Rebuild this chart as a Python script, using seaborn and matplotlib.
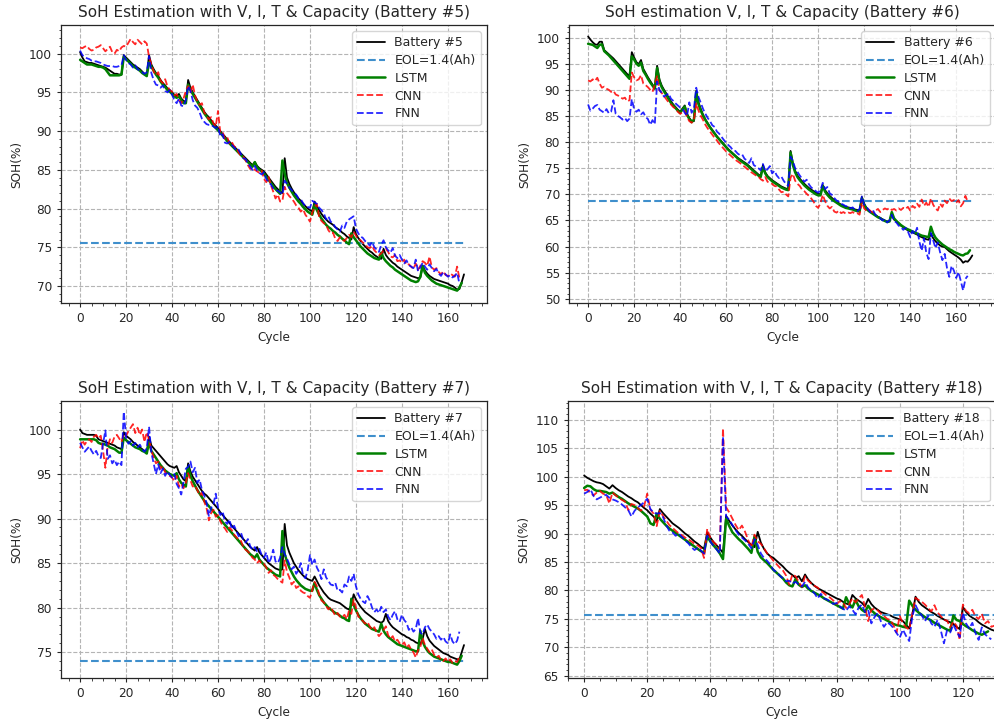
import matplotlib
matplotlib.use("Agg")
import matplotlib.pyplot as plt
import numpy as np
import seaborn as sns
from matplotlib.ticker import AutoMinorLocator, MultipleLocator

# ---- Battery #5 ----------------------------------------------------------
b5_true = [
    100.2, 99.5, 99.0, 98.9, 98.8, 98.8, 98.7, 98.6, 98.5, 98.4,
    98.3, 98.2, 98.0, 97.8, 97.6, 97.4, 97.4, 97.3, 97.3, 99.8,
    99.5, 99.2, 98.9, 98.6, 98.4, 98.2, 98.0, 97.7, 97.4, 97.2,
    99.8, 98.6, 98.0, 97.5, 97.1, 96.6, 96.2, 95.9, 95.5, 95.3,
    95.0, 94.7, 94.5, 94.8, 94.2, 93.9, 93.8, 96.6, 95.6, 95.0,
    94.5, 94.0, 93.5, 93.0, 92.5, 92.1, 91.8, 91.4, 91.0, 90.7,
    90.4, 90.0, 89.6, 89.3, 88.9, 88.6, 88.3, 88.0, 87.7, 87.4,
    87.1, 86.8, 86.5, 86.2, 85.9, 85.6, 86.0, 85.5, 85.2, 85.0,
    84.8, 84.4, 84.0, 83.6, 83.2, 82.8, 82.5, 82.2, 82.0, 86.5,
    84.0, 83.2, 82.6, 82.1, 81.7, 81.3, 81.0, 80.6, 80.3, 80.0,
    79.8, 79.6, 80.9, 80.3, 79.8, 79.3, 78.9, 78.6, 78.3, 78.1,
    77.9, 77.6, 77.4, 77.2, 76.9, 76.7, 76.4, 76.2, 76.0, 77.6,
    76.7, 76.2, 75.8, 75.4, 75.1, 74.8, 74.5, 74.3, 74.0, 73.8,
    73.6, 73.5, 74.8, 74.0, 73.6, 73.3, 73.0, 72.8, 72.5, 72.3,
    72.1, 71.9, 71.7, 71.5, 71.3, 71.2, 71.1, 71.0, 71.1, 72.6,
    72.0, 71.6, 71.3, 71.1, 70.9, 70.8, 70.7, 70.6, 70.5, 70.4,
    70.3, 70.1, 70.0, 69.8, 69.5, 69.6, 70.5, 71.5,
]
b5_lstm = [
    99.2, 99.0, 98.8, 98.6, 98.6, 98.6, 98.5, 98.4, 98.3, 98.3,
    98.2, 98.0, 97.6, 97.2, 97.2, 97.2, 97.2, 97.2, 97.3, 99.6,
    99.3, 99.0, 98.7, 98.4, 98.2, 98.0, 97.8, 97.5, 97.3, 97.1,
    98.9, 98.3, 97.8, 97.3, 96.9, 96.4, 96.0, 95.7, 95.3, 95.1,
    94.8, 94.5, 94.3, 94.5, 94.0, 93.6, 93.6, 96.0, 95.3, 94.8,
    94.3, 93.8, 93.3, 92.8, 92.3, 91.9, 91.5, 91.1, 90.7, 90.4,
    90.1, 89.8, 89.4, 89.1, 88.7, 88.4, 88.1, 87.8, 87.5, 87.2,
    86.9, 86.6, 86.3, 86.0, 85.7, 85.4, 86.0, 85.3, 85.0, 84.8,
    84.5, 84.1, 83.7, 83.3, 82.9, 82.5, 82.2, 81.9, 86.2, 84.5,
    83.3, 82.7, 82.2, 81.7, 81.3, 80.9, 80.6, 80.2, 79.9, 79.6,
    79.4, 79.2, 80.5, 79.8, 79.2, 78.7, 78.3, 77.9, 77.6, 77.4,
    77.1, 76.9, 76.6, 76.4, 76.1, 75.9, 75.6, 75.4, 76.8, 76.3,
    75.9, 75.5, 75.1, 74.8, 74.5, 74.2, 74.0, 73.8, 73.6, 73.5,
    73.4, 74.3, 73.6, 73.2, 72.9, 72.6, 72.4, 72.1, 71.9, 71.7,
    71.5, 71.3, 71.1, 70.9, 70.7, 70.6, 70.5, 70.6, 71.2, 72.6,
    71.7, 71.3, 71.0, 70.7, 70.5, 70.3, 70.2, 70.1, 70.0, 69.9,
    69.8, 69.7, 69.6, 69.5, 69.4, 69.8, 70.4,
]
b5_cnn = [
    100.8, 100.7, 100.9, 101.0, 100.6, 100.4, 100.5, 100.8, 100.9, 101.1,
    100.7, 100.3, 100.6, 100.9, 100.2, 100.0, 100.5, 100.3, 100.8, 101.0,
    100.9, 101.4, 101.9, 101.5, 101.2, 101.8, 101.5, 101.2, 101.6, 101.3,
    99.6, 98.6, 97.7, 97.2, 97.6, 96.5, 96.2, 96.7, 95.8, 95.3,
    95.1, 94.6, 94.8, 94.0, 93.6, 94.2, 95.2, 95.8, 95.0, 96.0,
    94.6, 93.8, 93.4, 93.6, 92.4, 92.0, 91.5, 91.8, 91.0, 90.6,
    92.6, 89.8, 89.9, 89.0, 89.2, 88.4, 88.6, 88.0, 87.9, 87.2,
    86.8, 86.7, 86.2, 85.6, 85.1, 85.3, 85.0, 84.8, 84.6, 84.9,
    83.8, 83.4, 84.1, 83.0, 82.2, 81.3, 81.8, 80.9, 81.0, 82.8,
    82.0, 81.6, 81.3, 80.9, 80.4, 80.1, 79.6, 79.9, 79.2, 78.8,
    78.3, 79.5, 80.2, 80.6, 78.9, 78.4, 78.1, 77.9, 77.2, 76.8,
    76.9, 76.1, 75.8, 76.3, 76.0, 75.8, 76.2, 76.6, 76.3, 77.0,
    76.5, 76.0, 75.9, 75.6, 75.4, 75.0, 74.9, 75.2, 74.6, 74.3,
    74.0, 74.2, 74.6, 74.8, 74.4, 73.8, 73.7, 74.0, 73.2, 73.3,
    73.0, 73.4, 72.7, 72.8, 72.5, 72.2, 72.9, 72.1, 72.6, 73.2,
    73.0, 72.6, 73.8, 72.4, 72.1, 72.3, 71.8, 71.5, 71.9, 71.4,
    71.3, 71.6, 71.4, 71.2, 72.5, 71.0,
]
b5_fnn = [
    100.4, 99.8, 99.6, 99.4, 99.3, 99.1, 99.0, 99.0, 98.9, 98.8,
    98.6, 98.5, 98.4, 98.4, 98.4, 98.3, 98.3, 98.4, 98.5, 99.8,
    99.2, 98.8, 98.6, 98.2, 98.5, 98.0, 97.8, 97.6, 97.4, 97.6,
    99.7, 97.5, 96.6, 96.0, 95.9, 95.6, 95.9, 95.2, 95.0, 95.3,
    94.7, 94.0, 93.6, 94.2, 93.3, 93.2, 94.0, 95.8, 95.2, 94.0,
    93.3, 93.0, 92.4, 91.6, 91.2, 90.9, 90.8, 90.8, 90.6, 90.4,
    90.6, 89.3, 89.6, 88.5, 88.4, 88.6, 88.2, 87.9, 87.5, 87.6,
    87.0, 86.5, 86.4, 85.8, 85.4, 85.0, 85.5, 84.9, 84.6, 84.4,
    84.7, 83.8, 83.4, 83.1, 82.6, 82.4, 82.3, 82.1, 81.8, 83.6,
    83.2, 82.7, 82.4, 82.0, 81.8, 81.3, 81.2, 80.7, 80.3, 80.2,
    80.1, 81.0, 80.8, 80.6, 80.1, 79.8, 79.4, 78.6, 79.0, 78.3,
    78.1, 77.6, 77.3, 77.0, 77.8, 77.5, 78.3, 78.6, 78.8, 79.0,
    77.4, 76.8, 76.4, 76.2, 75.8, 75.6, 75.2, 75.7, 75.0, 74.7,
    74.4, 75.3, 75.9, 75.0, 74.6, 74.3, 74.9, 73.9, 73.6, 74.0,
    73.4, 72.9, 73.3, 72.7, 72.5, 72.3, 73.4, 71.9, 72.4, 73.0,
    72.5, 72.1, 72.8, 72.3, 71.9, 72.2, 71.6, 71.3, 71.8, 71.5,
    71.2, 71.4, 71.1, 71.3, 71.7, 70.3,
]
b5_eol = 75.5

# ---- Battery #6 ----------------------------------------------------------
b6_true = [
    100.2, 99.6, 99.1, 98.7, 98.6, 99.2, 99.2, 97.6, 97.2, 96.8,
    96.4, 96.0, 95.5, 95.0, 94.5, 94.0, 93.5, 93.0, 92.6, 97.2,
    96.2, 95.3, 94.9, 95.7, 94.0, 93.2, 92.4, 91.7, 91.0, 90.4,
    94.6, 92.0, 90.8, 90.0, 89.3, 88.5, 87.8, 87.2, 86.7, 86.2,
    85.8, 86.4, 87.0, 85.4, 84.6, 84.0, 84.0, 89.8, 87.6, 86.3,
    85.2, 84.3, 83.6, 82.9, 82.3, 81.7, 81.1, 80.6, 80.1, 79.6,
    79.1, 78.6, 78.2, 77.8, 77.4, 77.0, 76.7, 76.4, 76.1, 75.8,
    75.4, 75.0, 74.6, 74.2, 73.8, 73.5, 75.6, 74.2, 73.5, 73.1,
    72.7, 72.4, 72.1, 71.8, 71.5, 71.3, 71.1, 71.0, 78.3, 76.0,
    74.5, 73.6, 73.0, 72.5, 72.0, 71.6, 71.2, 70.9, 70.6, 70.3,
    70.1, 70.0, 71.8, 70.8, 70.2, 69.7, 69.3, 68.9, 68.6, 68.3,
    68.0, 67.8, 67.6, 67.5, 67.4, 67.3, 67.1, 67.0, 66.9, 69.5,
    68.2, 67.4, 66.9, 66.6, 66.3, 66.0, 65.7, 65.5, 65.2, 65.0,
    64.8, 64.9, 66.3, 65.2, 64.8, 64.4, 64.0, 63.7, 63.4, 63.1,
    62.9, 62.7, 62.5, 62.3, 62.0, 61.8, 61.6, 61.4, 61.3, 62.5,
    61.6, 61.0, 60.6, 60.2, 60.0, 59.9, 59.5, 59.1, 58.8, 58.5,
    58.2, 57.9, 57.5, 56.9, 57.2, 57.1, 57.6, 58.3,
]
b6_lstm = [
    98.8, 98.7, 98.6, 98.3, 98.0, 98.6, 98.7, 97.4, 97.0, 96.6,
    96.1, 95.6, 95.1, 94.6, 94.1, 93.6, 93.1, 92.6, 92.1, 96.4,
    95.8, 95.0, 94.6, 95.2, 93.6, 92.9, 92.1, 91.4, 90.8, 90.2,
    94.2, 91.6, 90.5, 89.7, 89.0, 88.2, 87.5, 87.0, 86.5, 86.0,
    85.6, 86.2, 86.8, 85.2, 84.4, 83.8, 84.3, 89.5, 87.2, 86.0,
    85.0, 84.2, 83.5, 82.8, 82.2, 81.6, 81.0, 80.5, 80.0, 79.5,
    79.0, 78.5, 78.1, 77.7, 77.3, 76.9, 76.5, 76.2, 75.9, 75.6,
    75.2, 74.8, 74.4, 74.0, 73.6, 73.3, 75.2, 74.0, 73.3, 72.9,
    72.5, 72.2, 71.9, 71.6, 71.3, 71.1, 70.9, 70.8, 78.0, 75.6,
    74.2, 73.3, 72.7, 72.2, 71.7, 71.3, 70.9, 70.6, 70.3, 70.0,
    69.8, 69.8, 71.6, 70.5, 69.9, 69.4, 69.0, 68.7, 68.4, 68.1,
    67.8, 67.6, 67.4, 67.3, 67.2, 67.1, 66.9, 66.8, 66.7, 69.2,
    68.0, 67.2, 66.8, 66.5, 66.2, 65.9, 65.6, 65.4, 65.1, 64.9,
    64.7, 64.8, 66.6, 65.4, 64.9, 64.5, 64.1, 63.8, 63.5, 63.3,
    63.1, 62.9, 62.7, 62.5, 62.3, 62.1, 62.0, 61.9, 61.8, 63.8,
    62.5, 61.7, 61.2, 60.8, 60.4, 60.1, 59.8, 59.5, 59.3, 59.0,
    58.8, 58.6, 58.4, 58.3, 58.6, 58.7, 59.3,
]
b6_cnn = [
    91.8, 91.6, 92.0, 91.7, 92.3, 91.2, 90.4, 90.6, 90.2, 90.0,
    89.6, 89.8, 89.1, 88.9, 88.6, 88.3, 88.5, 87.8, 88.0, 93.3,
    92.4, 91.8, 92.0, 92.8, 91.2, 90.9, 90.5, 90.0, 89.6, 91.0,
    92.6, 89.9, 89.4, 88.8, 88.2, 87.6, 87.2, 86.7, 86.4, 85.8,
    85.4, 85.7, 86.0, 84.8, 84.0, 83.7, 84.2, 87.4, 86.0, 85.0,
    84.2, 83.3, 82.6, 82.0, 81.4, 80.8, 80.3, 79.7, 79.2, 78.7,
    78.2, 77.8, 77.4, 77.0, 76.6, 76.3, 76.0, 75.6, 75.3, 74.9,
    74.6, 74.2, 73.9, 73.6, 73.4, 72.9, 72.6, 73.3, 72.4, 72.2,
    72.0, 71.6, 71.5, 70.9, 70.4, 70.5, 70.0, 69.6, 73.2, 73.9,
    72.6, 72.0, 71.6, 70.9, 70.6, 70.1, 69.7, 69.2, 68.6, 67.8,
    67.4, 68.3, 69.9, 68.7, 67.8, 67.3, 67.6, 66.7, 66.5, 66.9,
    66.4, 66.6, 66.3, 66.5, 66.4, 66.6, 66.3, 66.4, 66.1, 68.5,
    67.3, 66.8, 67.1, 66.7, 66.5, 66.9, 67.2, 66.6, 67.0, 67.3,
    67.1, 67.4, 67.0, 67.2, 66.9, 67.3, 67.0, 67.4, 67.2, 67.6,
    66.9, 67.8, 67.4, 68.2, 67.6, 69.0, 67.8, 68.4, 67.6, 69.2,
    68.0, 67.3, 66.9, 68.2, 67.6, 68.8, 68.3, 69.2, 68.7, 68.9,
    68.4, 68.9, 67.7, 68.3, 69.7, 68.6,
]
b6_fnn = [
    87.2, 86.0, 86.4, 86.9, 87.1, 86.2, 85.9, 85.6, 86.3, 85.5,
    85.8, 88.0, 85.4, 85.0, 84.7, 84.3, 84.6, 84.0, 84.5, 88.2,
    86.3, 85.8, 86.2, 85.3, 85.7, 84.8, 84.4, 83.3, 84.2, 83.4,
    91.6, 90.0, 89.4, 88.7, 89.0, 89.3, 88.3, 87.9, 87.4, 87.0,
    86.6, 86.4, 85.6, 85.0, 87.6, 85.6, 86.4, 90.4, 88.6, 87.5,
    86.3, 85.4, 84.6, 84.0, 83.2, 82.9, 82.0, 81.6, 81.0, 80.4,
    79.9, 79.4, 79.0, 78.4, 78.3, 77.8, 77.5, 77.6, 76.8, 76.5,
    76.0, 76.9, 75.6, 75.3, 75.0, 74.6, 75.8, 74.4, 74.8, 75.4,
    74.0, 74.5, 73.6, 73.1, 73.4, 72.6, 72.0, 71.6, 77.2, 76.4,
    75.0, 74.3, 73.6, 73.0, 72.4, 72.8, 71.9, 71.3, 71.0, 70.6,
    70.3, 70.8, 72.2, 71.0, 71.4, 70.2, 69.9, 69.3, 68.8, 68.6,
    68.2, 68.0, 67.7, 67.8, 67.3, 67.5, 67.0, 66.8, 67.2, 69.6,
    68.0, 67.6, 67.0, 66.4, 66.8, 66.0, 65.8, 65.4, 65.0, 65.3,
    64.6, 65.0, 66.1, 64.9, 64.6, 64.0, 63.7, 63.2, 63.6, 62.9,
    61.8, 63.0, 62.4, 63.6, 60.9, 59.2, 61.6, 58.8, 57.6, 62.6,
    61.2, 59.7, 60.8, 58.9, 57.4, 58.6, 55.9, 54.2, 56.3, 55.4,
    54.0, 55.1, 53.4, 51.6, 53.8, 54.4,
]
b6_eol = 68.8

# ---- Battery #7 ----------------------------------------------------------
b7_true = [
    100.0, 99.6, 99.5, 99.4, 99.4, 99.4, 99.4, 99.3, 98.9, 98.8,
    98.7, 98.6, 98.5, 98.4, 98.3, 98.2, 98.0, 97.9, 97.8, 99.7,
    99.3, 99.1, 98.9, 98.6, 98.4, 98.2, 98.0, 97.8, 97.6, 97.5,
    99.2, 98.2, 97.9, 97.6, 97.3, 97.0, 96.7, 96.4, 96.1, 95.9,
    95.8, 95.7, 95.9, 95.2, 94.8, 94.4, 94.2, 96.2, 95.3, 94.7,
    94.3, 93.9, 93.5, 93.1, 92.8, 92.6, 92.3, 92.0, 91.7, 91.4,
    91.1, 90.7, 90.4, 90.1, 89.8, 89.5, 89.2, 88.9, 88.6, 88.3,
    88.0, 87.7, 87.4, 87.1, 86.8, 86.6, 86.4, 86.8, 86.2, 85.9,
    85.6, 85.3, 85.0, 84.8, 84.6, 84.4, 84.3, 84.2, 84.3, 89.4,
    87.0, 86.2, 85.6, 85.0, 84.6, 84.2, 83.9, 83.6, 83.4, 83.2,
    83.1, 83.0, 83.5, 83.0, 82.5, 82.1, 81.7, 81.4, 81.1, 80.9,
    80.8, 80.7, 80.6, 80.5, 80.3, 80.1, 79.9, 79.8, 80.3, 81.5,
    80.9, 80.5, 80.1, 79.8, 79.5, 79.3, 79.1, 78.9, 78.7, 78.5,
    78.4, 78.3, 78.5, 79.3, 78.5, 78.1, 77.8, 77.6, 77.4, 77.2,
    77.0, 76.9, 76.7, 76.6, 76.4, 76.3, 76.1, 76.0, 75.9, 76.5,
    77.6, 76.8, 76.3, 76.0, 75.7, 75.5, 75.3, 75.1, 74.9, 74.8,
    74.7, 74.5, 74.4, 74.3, 74.2, 74.2, 75.0, 75.8,
]
b7_lstm = [
    98.9, 98.9, 98.9, 98.9, 98.9, 98.9, 98.9, 98.8, 98.5, 98.4,
    98.4, 98.3, 98.2, 98.0, 97.9, 97.8, 97.6, 97.4, 97.4, 99.1,
    98.8, 98.6, 98.4, 98.2, 98.0, 97.9, 97.8, 97.6, 97.5, 97.3,
    98.6, 97.6, 97.2, 96.8, 96.4, 96.0, 95.7, 95.4, 95.2, 95.0,
    94.9, 94.8, 95.1, 94.4, 94.0, 93.8, 93.6, 95.8, 94.8, 94.2,
    93.7, 93.2, 92.8, 92.4, 92.0, 91.7, 91.4, 91.1, 90.8, 90.5,
    90.2, 89.9, 89.6, 89.3, 89.0, 88.7, 88.4, 88.1, 87.8, 87.5,
    87.2, 86.9, 86.6, 86.3, 86.0, 85.8, 85.6, 86.0, 85.4, 85.1,
    84.8, 84.5, 84.3, 84.1, 83.9, 83.7, 83.6, 83.5, 88.6, 86.0,
    85.2, 84.5, 84.0, 83.5, 83.1, 82.8, 82.5, 82.3, 82.1, 82.0,
    81.9, 81.9, 82.8, 82.0, 81.4, 81.0, 80.6, 80.3, 80.0, 79.8,
    79.6, 79.4, 79.3, 79.1, 78.9, 78.8, 78.6, 78.5, 81.0, 80.3,
    79.7, 79.2, 78.8, 78.5, 78.2, 78.0, 77.8, 77.6, 77.5, 77.4,
    77.3, 78.2, 77.4, 77.0, 76.7, 76.5, 76.3, 76.1, 75.9, 75.8,
    75.7, 75.6, 75.5, 75.4, 75.3, 75.2, 75.1, 75.1, 77.4, 76.2,
    75.6, 75.2, 74.9, 74.7, 74.5, 74.4, 74.3, 74.2, 74.1, 74.0,
    73.9, 73.9, 73.8, 73.7, 73.6, 74.0, 74.6,
]
b7_cnn = [
    97.9, 98.8, 98.3, 98.7, 98.9, 98.6, 99.2, 99.4, 99.0, 99.3,
    97.6, 95.7, 98.1, 98.9, 98.5, 99.2, 99.4, 99.0, 98.6, 99.5,
    99.3, 99.8, 100.2, 100.6, 99.6, 100.2, 99.4, 100.0, 98.6, 99.7,
    98.9, 97.6, 96.9, 96.2, 96.4, 95.6, 95.9, 95.2, 95.0, 94.8,
    94.6, 94.2, 94.8, 93.6, 93.9, 93.4, 94.0, 95.1, 94.3, 93.6,
    93.7, 93.2, 92.6, 92.9, 91.9, 91.2, 89.8, 90.6, 91.0, 90.2,
    90.4, 89.7, 89.2, 88.9, 88.5, 89.0, 88.7, 88.2, 87.9, 87.6,
    87.5, 86.8, 86.5, 86.3, 86.0, 85.6, 85.4, 85.0, 85.3, 84.9,
    84.9, 84.5, 83.9, 84.2, 83.7, 83.5, 83.2, 83.0, 82.8, 85.3,
    84.0, 83.4, 82.6, 82.9, 82.2, 82.4, 81.9, 81.7, 81.6, 81.3,
    81.1, 82.0, 82.9, 82.4, 81.5, 80.8, 80.6, 80.2, 79.8, 80.1,
    79.6, 79.1, 79.4, 79.0, 78.9, 79.2, 78.7, 79.7, 79.3, 80.9,
    80.0, 79.0, 78.8, 78.5, 78.2, 78.4, 77.9, 77.5, 77.8, 77.2,
    76.8, 77.1, 77.5, 77.9, 76.9, 76.5, 76.8, 76.2, 76.4, 76.0,
    75.8, 76.1, 75.5, 75.8, 75.3, 75.0, 74.4, 75.2, 75.6, 76.6,
    75.8, 75.4, 75.0, 75.3, 74.7, 74.4, 74.6, 74.1, 74.0, 74.3,
    73.9, 74.2, 73.8, 74.0, 73.9, 74.5,
]
b7_fnn = [
    98.5, 98.0, 97.5, 97.8, 98.1, 97.6, 97.2, 97.6, 97.0, 96.8,
    98.4, 99.9, 96.7, 97.1, 96.2, 96.6, 96.0, 96.4, 96.0, 102.0,
    99.1, 98.4, 98.7, 98.2, 98.5, 98.0, 98.3, 97.8, 97.5, 97.9,
    100.3, 97.4, 96.2, 95.0, 96.1, 95.1, 95.6, 94.8, 95.3, 94.9,
    94.6, 95.0, 93.9, 93.4, 92.7, 94.1, 95.6, 95.8, 96.4, 95.2,
    95.7, 94.0, 94.4, 93.2, 92.6, 91.8, 90.3, 91.2, 91.6, 92.8,
    91.2, 90.4, 90.8, 89.7, 89.4, 89.9, 88.8, 89.2, 88.6, 88.0,
    88.4, 87.6, 87.3, 87.7, 86.9, 86.5, 86.8, 86.3, 86.6, 85.9,
    85.6, 86.2, 85.0, 85.5, 86.5, 85.2, 85.0, 85.6, 86.8, 86.0,
    85.5, 84.9, 84.3, 84.6, 83.8, 84.2, 85.0, 83.6, 83.3, 84.2,
    85.9, 84.8, 85.4, 84.5, 84.0, 83.2, 84.3, 83.4, 83.0, 82.6,
    82.5, 82.8, 81.9, 82.0, 81.7, 82.6, 82.4, 83.5, 83.0, 83.8,
    82.4, 81.5, 81.0, 80.7, 80.5, 81.3, 80.8, 80.0, 79.5, 79.8,
    79.4, 80.1, 79.5, 79.8, 79.0, 78.6, 79.2, 79.6, 78.7, 78.4,
    79.2, 78.6, 78.3, 77.5, 77.8, 77.3, 77.6, 78.8, 77.2, 77.0,
    77.8, 78.1, 77.6, 77.3, 77.0, 76.5, 76.8, 76.4, 76.7, 76.2,
    76.0, 77.0, 76.2, 75.9, 76.3, 77.3,
]
b7_eol = 74.0

# ---- Battery #18 ---------------------------------------------------------
b18_true = [
    100.2, 99.8, 99.5, 99.2, 99.0, 98.9, 98.7, 98.3, 97.9, 98.5,
    98.0, 97.6, 97.3, 96.9, 96.5, 96.2, 95.8, 95.5, 95.0, 94.5,
    94.1, 93.5, 93.0, 92.2, 94.3, 93.6, 93.0, 92.4, 91.8, 91.4,
    91.0, 90.5, 90.0, 89.6, 89.1, 88.6, 88.2, 87.7, 87.3, 90.2,
    89.3, 88.5, 87.9, 87.3, 86.6, 93.1, 92.2, 91.4, 90.7, 90.1,
    89.6, 89.0, 88.5, 88.0, 87.6, 90.3, 88.4, 87.3, 86.5, 86.0,
    85.7, 85.2, 84.7, 84.2, 83.6, 83.1, 82.7, 82.2, 82.5, 81.6,
    82.8, 81.9, 81.3, 80.8, 80.4, 80.1, 79.8, 79.5, 79.2, 78.9,
    78.6, 78.4, 78.0, 77.7, 77.5, 79.2, 78.6, 78.2, 77.8, 77.2,
    78.5, 77.6, 77.0, 76.6, 76.2, 76.0, 75.8, 75.6, 75.3, 75.1,
    74.9, 74.6, 74.0, 73.3, 75.8, 78.9, 78.0, 77.4, 77.0, 76.6,
    76.2, 75.9, 75.5, 75.2, 74.9, 74.6, 74.4, 74.1, 73.6, 73.2,
    77.1, 76.2, 75.6, 75.2, 74.9, 74.4, 74.0, 73.7, 73.4, 73.1,
    72.9, 72.8,
]
b18_lstm = [
    98.0, 98.4, 98.3, 97.8, 97.5, 97.5, 97.4, 97.3, 97.0, 97.2,
    96.8, 96.4, 96.1, 95.7, 95.3, 95.0, 94.7, 94.4, 94.0, 93.5,
    93.0, 91.8, 91.5, 93.5, 92.6, 92.0, 91.4, 90.9, 90.5, 90.1,
    89.7, 89.3, 88.9, 88.5, 88.1, 87.7, 87.3, 86.9, 86.6, 89.5,
    88.6, 87.9, 87.3, 86.5, 85.5, 92.6, 91.3, 90.2, 89.6, 89.0,
    88.5, 87.9, 87.3, 86.6, 89.5, 86.8, 85.8, 85.3, 84.8, 84.2,
    83.6, 83.1, 82.6, 82.1, 81.4, 80.9, 80.7, 82.0, 81.0, 80.6,
    80.9, 80.3, 79.9, 79.6, 79.3, 79.0, 78.6, 78.3, 78.0, 77.7,
    77.4, 77.1, 76.8, 78.8, 77.6, 77.0, 78.3, 77.2, 76.6, 76.2,
    77.3, 76.5, 76.0, 75.6, 75.3, 75.0, 74.7, 74.4, 74.1, 73.9,
    73.8, 73.6, 73.5, 78.2, 77.3, 76.6, 76.1, 75.7, 75.3, 75.0,
    74.7, 74.3, 74.0, 73.7, 73.4, 73.1, 72.9, 75.6, 74.8, 74.6,
    74.1, 73.7, 73.4, 73.0, 72.7, 72.4, 72.2, 72.5, 72.8,
]
b18_cnn = [
    97.6, 97.7, 97.1, 96.7, 97.2, 97.5, 97.0, 96.8, 95.3, 97.2,
    96.7, 96.3, 95.9, 95.6, 94.1, 95.2, 95.0, 94.5, 94.0, 94.8,
    97.0, 94.2, 93.5, 91.3, 94.0, 93.1, 92.3, 91.5, 91.0, 90.5,
    90.0, 89.7, 89.3, 89.0, 88.6, 88.2, 87.9, 87.5, 85.7, 90.8,
    89.2, 88.5, 88.0, 87.3, 108.5, 94.6, 93.7, 92.6, 91.5, 90.6,
    91.4, 90.3, 88.8, 87.6, 89.8, 88.6, 88.2, 87.4, 86.5, 85.9,
    85.2, 84.6, 84.0, 83.5, 82.6, 81.0, 82.8, 82.5, 81.5, 80.6,
    82.5, 81.7, 81.2, 80.8, 80.5, 79.9, 79.5, 79.0, 78.7, 78.2,
    77.6, 78.1, 77.9, 76.9, 77.6, 78.6, 77.9, 78.6, 79.2, 77.1,
    74.6, 76.6, 76.8, 76.5, 75.9, 75.5, 75.0, 74.8, 73.9, 72.6,
    75.5, 74.2, 73.5, 73.1, 76.0, 78.7, 78.3, 78.0, 77.5, 76.9,
    76.3, 77.4, 76.1, 75.5, 74.8, 74.7, 73.5, 74.5, 73.8, 71.3,
    77.5, 76.4, 76.0, 76.6, 75.4, 75.0, 75.9, 74.2, 74.6, 73.6,
    73.8,
]
b18_fnn = [
    97.0, 97.3, 97.8, 96.6, 96.0, 96.3, 96.6, 96.8, 96.3, 96.0,
    95.8, 95.5, 95.1, 94.6, 94.1, 93.0, 94.0, 94.6, 95.0, 95.5,
    96.1, 94.3, 93.7, 93.5, 93.6, 92.9, 91.5, 90.5, 90.2, 89.6,
    90.0, 89.4, 88.8, 88.3, 87.6, 87.1, 87.5, 87.0, 86.5, 89.6,
    88.6, 87.8, 87.2, 86.5, 107.0, 93.0, 92.4, 91.5, 90.6, 89.8,
    89.3, 88.8, 88.2, 87.4, 89.0, 88.0, 86.5, 85.7, 85.2, 84.5,
    83.6, 83.2, 82.6, 82.1, 81.6, 81.7, 81.2, 81.5, 81.0, 80.7,
    81.5, 80.5, 80.0, 79.5, 78.6, 79.4, 78.6, 78.4, 78.0, 77.6,
    77.8, 77.2, 76.8, 76.4, 77.2, 76.6, 75.8, 77.0, 77.5, 76.2,
    76.6, 74.2, 75.3, 76.0, 74.6, 73.6, 74.4, 74.0, 73.4, 72.5,
    71.7, 73.1, 72.0, 71.1, 75.5, 77.4, 76.3, 75.6, 74.6, 75.5,
    74.2, 73.6, 74.8, 73.0, 70.7, 73.0, 72.6, 74.0, 72.8, 71.8,
    76.0, 74.2, 73.3, 74.3, 72.5, 71.3, 73.5, 72.3, 71.8, 71.4,
]
b18_eol = 75.7

# Axes boxes in figure pixels (left, top, width, height); the right column runs
# slightly past the canvas edge, so its right spine is cut off like the source.
FIG_W, FIG_H = 994, 721
BOXES = {
    "b5": (61, 25, 426, 278),
    "b6": (569, 25, 427, 278),
    "b7": (61, 401, 426, 277),
    "b18": (568, 401, 428, 277),
}
TITLE_FS = 11.0
TEXT_FS = 8.7
LEGEND_FS = 9.0

sns.set_theme(style="ticks", rc={
    "axes.edgecolor": "#262626",
    "axes.linewidth": 0.9,
    "xtick.major.size": 3.0,
    "ytick.major.size": 3.0,
    "xtick.minor.size": 1.8,
    "ytick.minor.size": 1.8,
    "xtick.major.width": 0.8,
    "ytick.major.width": 0.8,
    "xtick.minor.width": 0.6,
    "ytick.minor.width": 0.6,
})
plt.rcParams["font.family"] = ["DejaVu Sans"]


def plot_battery(ax, name, true, lstm, cnn, fnn, eol, title, xlim, ylim):
    sns.lineplot(x=np.arange(len(true)), y=true, ax=ax, color="black",
                 linewidth=1.3, label=f"Battery #{name}")
    sns.lineplot(x=[0, len(true) - 1], y=[eol, eol], ax=ax, color="#3f8fcc",
                 linewidth=1.5, linestyle="--", label="EOL=1.4(Ah)")
    sns.lineplot(x=np.arange(len(lstm)), y=lstm, ax=ax, color="green",
                 linewidth=1.8, label="LSTM")
    sns.lineplot(x=np.arange(len(cnn)), y=cnn, ax=ax, color="red", alpha=0.85,
                 linewidth=1.3, linestyle="--", label="CNN")
    sns.lineplot(x=np.arange(len(fnn)), y=fnn, ax=ax, color="blue", alpha=0.85,
                 linewidth=1.3, linestyle="--", label="FNN")

    ax.set_xlim(*xlim)
    ax.set_ylim(*ylim)
    ax.xaxis.set_major_locator(MultipleLocator(20))
    ax.yaxis.set_major_locator(MultipleLocator(5))
    ax.xaxis.set_minor_locator(AutoMinorLocator())
    ax.yaxis.set_minor_locator(AutoMinorLocator())
    ax.grid(True, which="major", linestyle="--", color="#b4b4b4", linewidth=0.8)
    ax.tick_params(labelsize=TEXT_FS, colors="#262626")
    ax.set_title(title, fontsize=TITLE_FS, color="#262626")
    ax.set_xlabel("Cycle", fontsize=TEXT_FS, color="#262626")
    ax.set_ylabel("SOH(%)", fontsize=TEXT_FS, color="#262626")
    ax.legend(loc="upper right", fontsize=LEGEND_FS, handlelength=2.2,
              labelspacing=0.38)


fig = plt.figure(figsize=(FIG_W / 100, FIG_H / 100), dpi=100)
axes = {}
for key, (l, t, w, h) in BOXES.items():
    axes[key] = fig.add_axes([l / FIG_W, 1 - (t + h) / FIG_H, w / FIG_W, h / FIG_H])

plot_battery(axes["b5"], 5, b5_true, b5_lstm, b5_cnn, b5_fnn, b5_eol,
             "SoH Estimation with V, I, T & Capacity (Battery #5)",
             (-8.3, 177.0), (67.8, 103.7))
plot_battery(axes["b6"], 6, b6_true, b6_lstm, b6_cnn, b6_fnn, b6_eol,
             "SoH estimation V, I, T & Capacity (Battery #6)",
             (-8.3, 177.3), (49.2, 102.4))
plot_battery(axes["b7"], 7, b7_true, b7_lstm, b7_cnn, b7_fnn, b7_eol,
             "SoH Estimation with V, I, T & Capacity (Battery #7)",
             (-8.3, 177.0), (72.1, 103.2))
plot_battery(axes["b18"], 18, b18_true, b18_lstm, b18_cnn, b18_fnn, b18_eol,
             "SoH Estimation with V, I, T & Capacity (Battery #18)",
             (-5.1, 130.5), (64.6, 113.3))

fig.savefig("out.png", dpi=100)
plt.close(fig)
